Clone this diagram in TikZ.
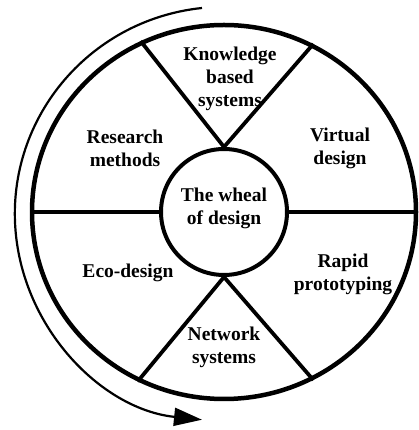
\documentclass[tikz,border=0pt]{standalone}
\usepackage{fontspec}
\setmainfont{Liberation Serif}
\usetikzlibrary{shapes.geometric,arrows.meta}
\begin{document}
\begin{tikzpicture}[x=1pt,y=1pt,
 lbl/.style={font=\bfseries\fontsize{19.5}{23}\selectfont, align=center, inner sep=0pt},
 rim/.style={line width=4.5pt},
 hubline/.style={line width=4pt},
 spoke/.style={line width=3.8pt},
 cyc/.style={line width=2.2pt,-{Triangle[length=28pt,width=18pt]}}]
\useasboundingbox (0,0) rectangle (418,430);
\node[ellipse, draw, rim, minimum width=384pt, minimum height=374pt, inner sep=0pt] (outer) at (224,218) {};
\node[circle, draw, hubline, minimum size=126pt, inner sep=0pt] (hub) at (224,218) {};
\node[lbl] (hubtxt) at (224,222) {The wheal\\of design};
\draw[spoke] (hub.north) -- (outer.116);
\draw[spoke] (hub.north) -- (outer.62);
\draw[spoke] (hub.south) -- (outer.243);
\draw[spoke] (hub.south) -- (outer.298);
\draw[spoke] (hub.west) -- (outer.west);
\draw[spoke] (hub.east) -- (outer.east);
\node[lbl] (kbs) at (230,351) {Knowledge\\based\\systems};
\node[lbl] (rm) at (125,282) {Research\\methods};
\node[lbl] (vd) at (340,282) {Virtual\\design};
\node[lbl] (eco) at (128,157) {Eco-design};
\node[lbl] (rp) at (343,156) {Rapid\\prototyping};
\node[lbl] (ns) at (224,83) {Network\\systems};
\coordinate (arrstart) at (202,422);
\draw[cyc] (arrstart) arc[start angle=96, end angle=264, x radius=209, y radius=207];
\end{tikzpicture}
\end{document}
